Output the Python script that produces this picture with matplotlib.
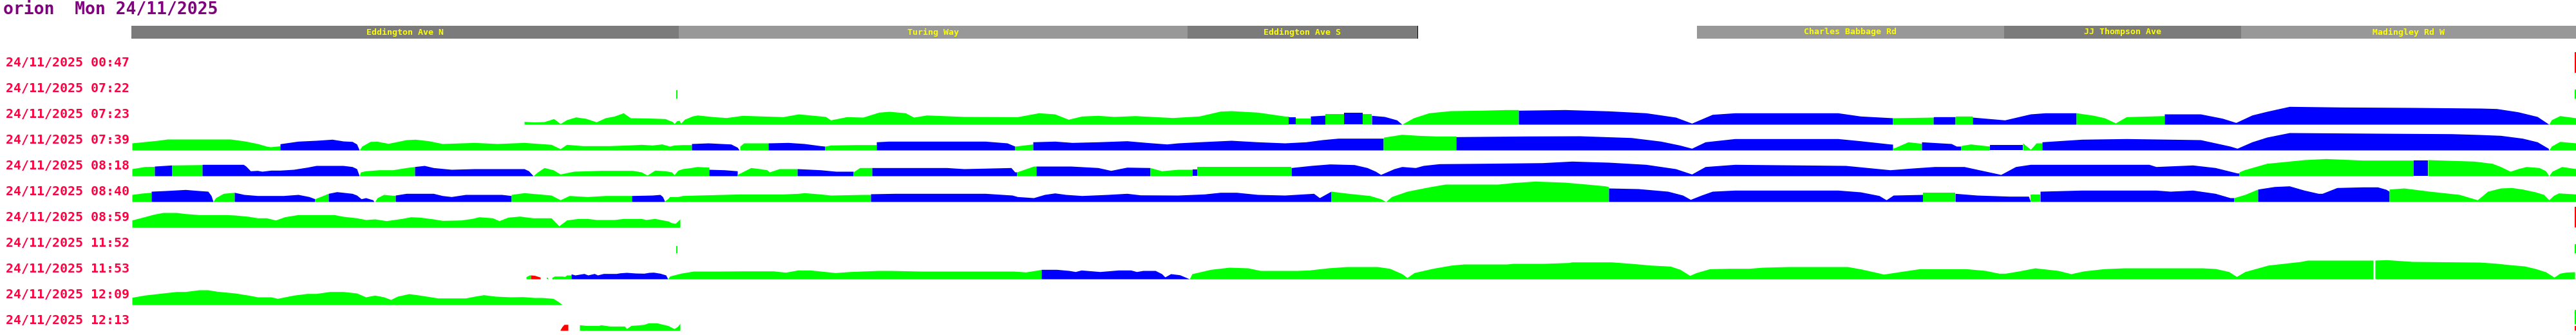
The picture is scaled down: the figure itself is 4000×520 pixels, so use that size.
import matplotlib
matplotlib.use("Agg")
import matplotlib.pyplot as plt

# ---------------- data ----------------
TITLE = "orion  Mon 24/11/2025"

HDR_NAMES = ["Eddington Ave N", "Turing Way", "Eddington Ave S", "",
             "Charles Babbage Rd", "JJ Thompson Ave", "Madingley Rd W"]
HDR_START = [204, 1054, 1844, 2201, 2635, 3112, 3480]
HDR_END = [1054, 1844, 2201, 2635, 3112, 3480, 4000]
HDR_SHADE = ["d", "l", "d", "-", "l", "d", "l"]
HDR_TICKS = [2201]

ROW_LABELS = ["24/11/2025 00:47", "24/11/2025 07:22", "24/11/2025 07:23",
              "24/11/2025 07:39", "24/11/2025 08:18", "24/11/2025 08:40",
              "24/11/2025 08:59", "24/11/2025 11:52", "24/11/2025 11:53",
              "24/11/2025 12:09", "24/11/2025 12:13"]

# (route position, value, category of the stretch that follows)
R0047 = []
R0722 = []
R0723 = [(814, 0, 'g'), (814, 4.3, 'g'), (830, 3.5, 'g'), (845, 4, 'g'), (860, 8.7, 'g'),
         (870, 1, 'g'), (880, 7, 'g'), (894, 11.3, 'g'), (910, 9, 'g'), (926, 3.7, 'g'),
         (940, 10, 'g'), (954, 12.7, 'g'), (968, 17.7, 'g'), (979, 10, 'g'), (1003, 9.7, 'g'),
         (1033, 8.7, 'g'), (1045, 3.7, 'g'), (1047, 1, 'g'), (1051, 5.5, 'g'), (1055, 6, 'g'),
         (1057, 1.5, 'g'), (1063, 7.7, 'g'), (1075, 12.7, 'g'), (1083, 14.3, 'g'),
         (1108, 11.7, 'g'), (1128, 10.3, 'g'), (1153, 13.7, 'g'), (1216, 11.7, 'g'),
         (1240, 16, 'g'), (1282, 12, 'g'), (1290, 6.7, 'g'), (1315, 11.7, 'g'), (1340, 11, 'g'),
         (1365, 18.7, 'g'), (1381, 20, 'g'), (1406, 17.7, 'g'), (1419, 11, 'g'),
         (1439, 14.3, 'g'), (1497, 12, 'g'), (1580, 11.7, 'g'), (1613, 17.7, 'g'),
         (1638, 16, 'g'), (1659, 7.7, 'g'), (1680, 12.7, 'g'), (1705, 13.7, 'g'),
         (1730, 12, 'g'), (1763, 13.3, 'g'), (1821, 10.3, 'g'), (1862, 12.7, 'g'),
         (1895, 20.3, 'g'), (1912, 21, 'g'), (1953, 18.7, 'g'), (1995, 12.7, 'g'),
         (2001, 12.5, 'b'), (2001, 11, 'b'), (2012, 11, 'g'), (2012, 9.3, 'g'),
         (2035, 9.3, 'b'), (2035, 12.7, 'b'), (2058, 14, 'g'), (2058, 16, 'g'),
         (2087, 16, 'b'), (2087, 17.7, 'b'), (2116, 17.7, 'g'), (2116, 16, 'g'),
         (2130, 16, 'b'), (2130, 13.7, 'b'), (2150, 12, 'b'), (2169, 6.7, 'b'),
         (2177, 0, 'g'), (2195, 10, 'g'), (2219, 17.7, 'g'), (2252, 21, 'g'),
         (2300, 21.7, 'g'), (2338, 22.7, 'g'), (2358, 22.7, 'b'), (2358, 21.7, 'b'),
         (2430, 22.7, 'b'), (2498, 20.7, 'b'), (2556, 17.7, 'b'), (2602, 11, 'b'),
         (2627, 1.7, 'b'), (2659, 15.3, 'b'), (2694, 17.7, 'b'), (2854, 17.7, 'b'),
         (2889, 12.7, 'b'), (2939, 10, 'g'), (2940, 10, 'g'), (3002, 11, 'b'),
         (3003, 11.7, 'b'), (3036, 11.7, 'g'), (3037, 12.7, 'g'), (3063, 12.7, 'b'),
         (3063, 11, 'b'), (3113, 6.7, 'b'), (3153, 16, 'b'), (3176, 17.7, 'b'),
         (3224, 17.7, 'g'), (3250, 14, 'g'), (3268, 10, 'g'), (3285, 2, 'g'),
         (3302, 11.7, 'g'), (3361, 13.3, 'b'), (3361, 16, 'b'), (3417, 16, 'b'),
         (3451, 9.3, 'b'), (3472, 2.7, 'b'), (3497, 14.3, 'b'), (3520, 20, 'b'),
         (3555, 27.7, 'b'), (3635, 26.7, 'b'), (3750, 26, 'b'), (3853, 25, 'b'),
         (3877, 24.3, 'b'), (3910, 19.3, 'b'), (3940, 12, 'b'), (3958, 0, 'g'),
         (3962, 7, 'g'), (3975, 13.3, 'g'), (3985, 12, 'g'), (4000, 10, '-')]
R0739 = [(205, 0, 'g'), (205, 11, 'g'), (225, 13, 'g'), (245, 15, 'g'), (260, 17, 'g'),
         (358, 17, 'g'), (380, 14, 'g'), (400, 10, 'g'), (414, 6, 'g'), (420, 5, 'g'),
         (435, 6.5, 'b'), (435, 9.7, 'b'), (463, 13.7, 'b'), (491, 15, 'b'), (516, 16.7, 'b'),
         (533, 14, 'b'), (547, 13.3, 'b'), (554, 9.3, 'b'), (558, 0, 'g'), (562, 6, 'g'),
         (575, 13.3, 'g'), (586, 13.5, 'g'), (603, 10.3, 'g'), (631, 16, 'g'),
         (645, 16.7, 'g'), (666, 14.3, 'g'), (687, 10, 'g'), (737, 11.7, 'g'), (772, 10, 'g'),
         (814, 11.7, 'g'), (856, 8.7, 'g'), (870, 2, 'g'), (880, 8.7, 'g'), (905, 6.7, 'g'),
         (947, 6.7, 'g'), (982, 8, 'g'), (996, 8.7, 'g'), (1013, 7.7, 'g'), (1028, 9.3, 'g'),
         (1040, 6, 'g'), (1047, 7.7, 'g'), (1060, 8.3, 'g'), (1074, 8.3, 'b'),
         (1074, 10, 'b'), (1100, 11, 'b'), (1120, 10, 'b'), (1135, 9.3, 'b'),
         (1145, 4.3, 'b'), (1148, 0, '-'), (1149, 6, 'g'), (1155, 11, 'g'), (1193, 11, 'b'),
         (1224, 11.7, 'b'), (1249, 10, 'b'), (1274, 6.7, 'b'), (1281, 6, 'g'),
         (1290, 7.7, 'g'), (1330, 8.3, 'g'), (1361, 8.3, 'b'), (1361, 12.7, 'b'),
         (1380, 13.7, 'b'), (1530, 13.7, 'b'), (1564, 11, 'b'), (1576, 6, 'g'),
         (1604, 9.3, 'b'), (1604, 12.7, 'b'), (1638, 13.7, 'b'), (1665, 11.7, 'b'),
         (1705, 12.7, 'b'), (1750, 14.3, 'b'), (1780, 11.7, 'b'), (1812, 9.3, 'b'),
         (1829, 11, 'b'), (1862, 12.7, 'b'), (1912, 15, 'b'), (1953, 12.7, 'b'),
         (1995, 11, 'b'), (2028, 12.7, 'b'), (2053, 16, 'b'), (2078, 18.3, 'b'),
         (2148, 18.3, 'g'), (2149, 20, 'g'), (2177, 24.3, 'g'), (2202, 22.7, 'g'),
         (2230, 21.7, 'g'), (2261, 21.7, 'b'), (2261, 20.7, 'b'), (2372, 21.7, 'b'),
         (2453, 22, 'b'), (2533, 19.3, 'b'), (2579, 13.7, 'b'), (2608, 7.7, 'b'),
         (2627, 2.7, 'b'), (2648, 12.7, 'b'), (2694, 17.7, 'b'), (2854, 17.7, 'b'),
         (2889, 14.3, 'b'), (2935, 9.3, 'b'), (2939, 9, 'g'), (2940, 2.7, 'g'),
         (2963, 12.7, 'g'), (2984, 10.3, 'b'), (2984, 12.7, 'b'), (3030, 10, 'b'),
         (3038, 6, 'b'), (3045, 6, 'g'), (3046, 7, 'g'), (3060, 9.3, 'g'), (3090, 6, 'b'),
         (3090, 8.3, 'b'), (3141, 8.3, 'g'), (3141, 11, 'g'), (3153, 1, 'g'),
         (3162, 11, 'g'), (3171, 11, 'b'), (3171, 12.7, 'b'), (3233, 16.7, 'b'),
         (3302, 17.7, 'b'), (3417, 16, 'b'), (3463, 6, 'b'), (3474, 2.7, 'b'),
         (3497, 12.7, 'b'), (3520, 20, 'b'), (3555, 27, 'b'), (3692, 26, 'b'),
         (3807, 25.3, 'b'), (3850, 24, 'b'), (3883, 22.7, 'b'), (3917, 18.3, 'b'),
         (3940, 12.7, 'b'), (3957, 2.7, 'b'), (3958, 0, 'g'), (3962, 6, 'g'),
         (3975, 13.3, 'g'), (4000, 11, '-')]
R0818 = [(205, 0, 'g'), (205, 11, 'g'), (225, 14.3, 'g'), (240, 14.5, 'b'), (240, 15, 'b'),
         (267, 16.7, 'g'), (314, 17.3, 'b'), (314, 17.7, 'b'), (378, 17.7, 'b'),
         (382, 15, 'b'), (389, 7.7, 'b'), (400, 8.3, 'b'), (407, 7, 'b'), (421, 8.7, 'b'),
         (435, 8.7, 'b'), (456, 10, 'b'), (477, 13.3, 'b'), (491, 16, 'b'), (533, 16, 'b'),
         (547, 14.3, 'b'), (554, 11, 'b'), (558, 0, 'g'), (560, 6, 'g'), (568, 7.7, 'g'),
         (589, 9.3, 'g'), (610, 9.3, 'g'), (631, 12.7, 'g'), (644, 14.3, 'b'),
         (659, 16, 'b'), (673, 12.7, 'b'), (701, 10, 'b'), (736, 11, 'b'), (814, 11, 'b'),
         (821, 7.7, 'b'), (828, 0, 'g'), (835, 6, 'g'), (845, 12.7, 'g'), (859, 9.3, 'g'),
         (870, 2.7, 'g'), (891, 7, 'g'), (933, 8.3, 'g'), (982, 8.3, 'g'), (996, 6, 'g'),
         (1005, 1, 'g'), (1017, 8.7, 'g'), (1033, 7.7, 'g'), (1043, 6, 'g'),
         (1047, 1.7, 'g'), (1053, 8.7, 'g'), (1060, 11, 'g'), (1073, 12.7, 'g'),
         (1083, 14.3, 'g'), (1101, 13.3, 'b'), (1101, 10, 'b'), (1125, 9.3, 'b'),
         (1145, 7.7, 'g'), (1145, 2, 'g'), (1166, 12.7, 'g'), (1180, 11, 'g'),
         (1191, 9.3, 'g'), (1195, 6, 'g'), (1210, 11, 'g'), (1238, 11, 'b'),
         (1274, 9.3, 'b'), (1298, 7, 'b'), (1325, 7, 'g'), (1325, 6, 'g'),
         (1335, 12.7, 'g'), (1354, 12.7, 'b'), (1470, 12.7, 'b'), (1497, 11, 'b'),
         (1570, 12.7, 'b'), (1576, 6, 'b'), (1579, 6, 'g'), (1605, 15, 'g'), (1609, 15, 'b'),
         (1663, 15, 'b'), (1705, 12.7, 'b'), (1725, 8.3, 'b'), (1750, 13.3, 'b'),
         (1786, 12.7, 'g'), (1804, 7.7, 'g'), (1829, 10, 'g'), (1852, 10, 'b'),
         (1859, 10, 'g'), (1859, 14.3, 'g'), (2005, 14.3, 'b'), (2005, 12.7, 'b'),
         (2036, 16, 'b'), (2065, 18.3, 'b'), (2103, 17.3, 'b'), (2123, 12.7, 'b'),
         (2136, 7, 'b'), (2144, 2, 'b'), (2165, 11, 'b'), (2177, 14.3, 'b'),
         (2198, 12.7, 'b'), (2210, 16, 'b'), (2235, 18.7, 'b'), (2303, 19.3, 'b'),
         (2395, 20.3, 'b'), (2441, 22.7, 'b'), (2498, 21, 'b'), (2556, 17.7, 'b'),
         (2602, 11, 'b'), (2627, 2.7, 'b'), (2648, 14.3, 'b'), (2694, 17.7, 'b'),
         (2866, 16, 'b'), (2935, 9.3, 'b'), (2970, 12, 'b'), (3004, 14.3, 'b'),
         (3050, 14.3, 'b'), (3107, 2, 'b'), (3130, 14.3, 'b'), (3153, 17.7, 'b'),
         (3337, 17.7, 'b'), (3348, 14.3, 'b'), (3405, 16.7, 'b'), (3440, 12.7, 'b'),
         (3474, 4.3, 'b'), (3477, 4.3, 'g'), (3477, 6, 'g'), (3485, 9.3, 'g'),
         (3520, 19.3, 'g'), (3578, 25, 'g'), (3612, 26.7, 'g'), (3669, 24.3, 'g'),
         (3748, 24.3, 'b'), (3770, 24.3, 'g'), (3770, 25, 'g'), (3842, 22.7, 'g'),
         (3870, 19.3, 'g'), (3883, 14.3, 'g'), (3898, 7, 'g'), (3910, 11, 'g'),
         (3923, 14.3, 'g'), (3943, 12.7, 'g'), (3953, 7.7, 'g'), (3958, 0, 'g'),
         (3963, 7, 'g'), (3978, 14.3, 'g'), (4000, 11, '-')]
R0840 = [(205, 0, 'g'), (205, 11, 'g'), (220, 13, 'g'), (235, 14.3, 'b'), (235, 16, 'b'),
         (257, 17, 'b'), (288, 18.7, 'b'), (309, 17, 'b'), (323, 16, 'b'), (328, 9.3, 'b'),
         (331, 0, 'g'), (335, 6, 'g'), (347, 12.7, 'g'), (364, 14.3, 'b'), (379, 11, 'b'),
         (400, 9.3, 'b'), (440, 9.3, 'b'), (463, 11, 'b'), (480, 7.7, 'b'), (489, 4.3, 'g'),
         (510, 12.7, 'b'), (523, 15.3, 'b'), (547, 12.7, 'b'), (554, 10, 'b'),
         (561, 4.3, 'b'), (568, 6, 'b'), (579, 2.7, 'b'), (581, 0, '-'), (582, 0, 'g'),
         (586, 6, 'g'), (596, 11, 'g'), (614, 9.3, 'b'), (614, 10, 'b'), (631, 12.7, 'b'),
         (673, 12.7, 'b'), (687, 9.3, 'b'), (701, 7.7, 'b'), (723, 11, 'b'), (779, 11, 'b'),
         (794, 9.3, 'g'), (794, 11, 'g'), (814, 13.7, 'g'), (856, 10, 'g'), (870, 2.7, 'g'),
         (884, 9.3, 'g'), (912, 7.7, 'g'), (940, 9.3, 'g'), (981, 9.3, 'b'),
         (1013, 10, 'b'), (1025, 11, 'b'), (1029, 7.7, 'b'), (1032, 1, 'g'),
         (1037, 4.3, 'g'), (1040, 7.7, 'g'), (1053, 7.7, 'g'), (1060, 9.3, 'g'),
         (1083, 10, 'g'), (1150, 11.7, 'g'), (1216, 11.7, 'g'), (1240, 12.7, 'g'),
         (1249, 13.7, 'g'), (1274, 11.7, 'g'), (1290, 10, 'g'), (1340, 11, 'g'),
         (1352, 11, 'b'), (1352, 12, 'b'), (1390, 12.7, 'b'), (1530, 12.7, 'b'),
         (1572, 10, 'b'), (1580, 7.7, 'b'), (1605, 6, 'b'), (1622, 11, 'b'),
         (1638, 13.3, 'b'), (1655, 11, 'b'), (1680, 9.3, 'b'), (1720, 11, 'b'),
         (1750, 12.7, 'b'), (1771, 10.3, 'b'), (1829, 10, 'b'), (1870, 11.7, 'b'),
         (1895, 14.3, 'b'), (1920, 14.3, 'b'), (1953, 11, 'b'), (1995, 10, 'b'),
         (2040, 12.7, 'b'), (2049, 6, 'b'), (2061, 12.7, 'b'), (2067, 16, 'g'),
         (2094, 12.7, 'g'), (2127, 9.3, 'g'), (2144, 4.3, 'g'), (2152, 0, 'g'),
         (2161, 7.7, 'g'), (2185, 16, 'g'), (2219, 22.7, 'g'), (2244, 27, 'g'),
         (2326, 27, 'g'), (2349, 29.3, 'g'), (2384, 31.7, 'g'), (2430, 30, 'g'),
         (2464, 27, 'g'), (2493, 24.3, 'g'), (2498, 23, 'b'), (2498, 21, 'b'),
         (2544, 20, 'b'), (2590, 16, 'b'), (2613, 10, 'b'), (2625, 3.3, 'b'),
         (2642, 10, 'b'), (2659, 16, 'b'), (2694, 17.7, 'b'), (2854, 17.7, 'b'),
         (2889, 15, 'b'), (2918, 9.3, 'b'), (2929, 2.7, 'b'), (2940, 10, 'b'),
         (2986, 11, 'g'), (2986, 14.3, 'g'), (3036, 14.3, 'b'), (3036, 12.7, 'b'),
         (3070, 10, 'b'), (3120, 8.3, 'b'), (3150, 8.3, 'b'), (3153, 0, 'g'),
         (3153, 11, 'g'), (3168, 11, 'b'), (3168, 16, 'b'), (3233, 17.7, 'b'),
         (3348, 17.7, 'b'), (3370, 16, 'b'), (3405, 17.7, 'b'), (3440, 12.7, 'b'),
         (3463, 6, 'b'), (3469, 6, 'g'), (3486, 11, 'g'), (3506, 19.3, 'b'),
         (3532, 23.3, 'b'), (3555, 24.3, 'b'), (3578, 17.7, 'b'), (3600, 12.7, 'b'),
         (3606, 12.7, 'b'), (3629, 21.7, 'b'), (3669, 22.7, 'b'), (3692, 22.7, 'b'),
         (3705, 19, 'b'), (3710, 16, 'g'), (3710, 19.3, 'g'), (3733, 21, 'g'),
         (3773, 16, 'g'), (3819, 11, 'g'), (3847, 2.7, 'g'), (3863, 16, 'g'),
         (3883, 21, 'g'), (3900, 21.7, 'g'), (3917, 19.3, 'g'), (3937, 15, 'g'),
         (3950, 11, 'g'), (3958, 2.7, 'g'), (3965, 9.3, 'g'), (3973, 13.3, 'g'),
         (4000, 11.7, '-')]
R0859 = [(205, 0, 'g'), (205, 11.3, 'g'), (224, 16.3, 'g'), (239, 20.3, 'g'), (253, 23, 'g'),
         (274, 23, 'g'), (288, 21.3, 'g'), (309, 19.7, 'g'), (351, 19.7, 'g'), (365, 19, 'g'),
         (386, 17, 'g'), (400, 14.7, 'g'), (414, 14.7, 'g'), (428, 11.3, 'g'),
         (442, 16.3, 'g'), (463, 19.7, 'g'), (519, 19.7, 'g'), (533, 17, 'g'),
         (554, 14.7, 'g'), (568, 12, 'g'), (582, 13, 'g'), (600, 10.3, 'g'), (624, 13.7, 'g'),
         (638, 16.3, 'g'), (652, 15.7, 'g'), (673, 13, 'g'), (687, 10.7, 'g'),
         (716, 11.3, 'g'), (733, 13.7, 'g'), (744, 16.3, 'g'), (765, 14.7, 'g'),
         (775, 10.3, 'g'), (789, 15.7, 'g'), (807, 17.3, 'g'), (828, 14.7, 'g'),
         (856, 14.7, 'g'), (868, 2.3, 'g'), (880, 11.3, 'g'), (898, 13.7, 'g'),
         (912, 13.7, 'g'), (926, 12, 'g'), (954, 12, 'g'), (968, 13.7, 'g'), (996, 13.7, 'g'),
         (1003, 12, 'g'), (1017, 13.7, 'g'), (1038, 9.7, 'g'), (1043, 7, 'g'),
         (1049, 6.3, 'g'), (1056, 13, '-')]
R1152 = []
R1153 = [(817, 0, 'g'), (817, 3.3, 'g'), (822, 6, 'g'), (824, 6, 'r'), (830, 5.5, 'r'),
         (839, 2.7, '-'), (849, 1.7, 'g'), (851, 1.7, '-'), (857, 2, 'g'), (861, 4.3, 'g'),
         (873, 4.3, 'g'), (877, 3.7, 'g'), (880, 6, 'g'), (887, 6, 'b'), (887, 7.7, 'b'),
         (893, 6, 'b'), (907, 8.3, 'b'), (913, 6, 'b'), (923, 8.3, 'b'), (928, 6, 'b'),
         (937, 8.3, 'b'), (957, 8.3, 'b'), (963, 9.3, 'b'), (973, 10, 'b'), (987, 9, 'b'),
         (1000, 8.7, 'b'), (1008, 10, 'b'), (1015, 10.3, 'b'), (1025, 8.7, 'b'),
         (1034, 6, 'b'), (1037, 0, 'g'), (1040, 4.3, 'g'), (1057, 8.7, 'g'), (1077, 12, 'g'),
         (1115, 12, 'g'), (1153, 12.3, 'g'), (1201, 12.3, 'g'), (1220, 10.3, 'g'),
         (1239, 13.7, 'g'), (1258, 13.7, 'g'), (1297, 9.7, 'g'), (1320, 11.3, 'g'),
         (1364, 13, 'g'), (1383, 13, 'g'), (1430, 12, 'g'), (1500, 12, 'g'), (1574, 12, 'g'),
         (1593, 10.7, 'g'), (1612, 13.7, 'g'), (1617, 14.7, 'b'), (1641, 14.7, 'b'),
         (1660, 13, 'b'), (1670, 11.3, 'b'), (1679, 13.7, 'b'), (1708, 11.3, 'b'),
         (1737, 13.7, 'b'), (1756, 13.7, 'b'), (1765, 11.3, 'b'), (1775, 13, 'b'),
         (1794, 13, 'b'), (1804, 8, 'b'), (1809, 3, 'b'), (1818, 8, 'b'), (1832, 6.3, 'b'),
         (1847, 0, 'g'), (1851, 8, 'g'), (1880, 14.7, 'g'), (1909, 18, 'g'), (1938, 17, 'g'),
         (1957, 13, 'g'), (2014, 13, 'g'), (2033, 13.7, 'g'), (2062, 17, 'g'),
         (2091, 19, 'g'), (2139, 19, 'g'), (2158, 16.3, 'g'), (2177, 8, 'g'), (2185, 2, 'g'),
         (2196, 9.7, 'g'), (2225, 16.3, 'g'), (2254, 21.3, 'g'), (2273, 23, 'g'),
         (2340, 23, 'g'), (2349, 24, 'g'), (2397, 24, 'g'), (2436, 25.3, 'g'),
         (2441, 26.3, 'g'), (2502, 26.3, 'g'), (2533, 24, 'g'), (2563, 21.3, 'g'),
         (2594, 19.7, 'g'), (2609, 14.7, 'g'), (2624, 5.3, 'g'), (2634, 9.7, 'g'),
         (2655, 15.7, 'g'), (2686, 16.3, 'g'), (2716, 16.3, 'g'), (2737, 18, 'g'),
         (2777, 19, 'g'), (2869, 19, 'g'), (2890, 15.3, 'g'), (2915, 9.7, 'g'),
         (2925, 7.3, 'g'), (2951, 11.3, 'g'), (2981, 15.7, 'g'), (3053, 15.7, 'g'),
         (3083, 13, 'g'), (3104, 8.7, 'g'), (3114, 8.7, 'g'), (3134, 12, 'g'),
         (3160, 17, 'g'), (3196, 13, 'g'), (3216, 8, 'g'), (3236, 12.3, 'g'),
         (3267, 15.7, 'g'), (3298, 17, 'g'), (3420, 17, 'g'), (3440, 16, 'g'),
         (3461, 11.3, 'g'), (3473, 3.7, 'g'), (3486, 11.3, 'g'), (3522, 21.3, 'g'),
         (3573, 27, 'g'), (3583, 29, 'g'), (3685, 29, '-'), (3688, 29, 'g'),
         (3706, 29.7, 'g'), (3746, 27, 'g'), (3850, 26, 'g'), (3875, 24.3, 'g'),
         (3900, 21.7, 'g'), (3920, 20, 'g'), (3937, 16, 'g'), (3953, 11, 'g'),
         (3966, 2.7, 'g'), (3975, 8.7, 'g'), (3985, 10.5, 'g'), (3998, 11, '-')]
R1209 = [(205, 0, 'g'), (205, 11.3, 'g'), (224, 14.7, 'g'), (253, 18, 'g'), (274, 20.3, 'g'),
         (288, 20.3, 'g'), (309, 23, 'g'), (323, 23, 'g'), (337, 20.7, 'g'), (365, 18, 'g'),
         (386, 14.7, 'g'), (400, 12, 'g'), (421, 12, 'g'), (431, 9.7, 'g'), (456, 14.7, 'g'),
         (477, 17.3, 'g'), (491, 17.3, 'g'), (512, 20.3, 'g'), (533, 20.3, 'g'),
         (554, 18, 'g'), (568, 12, 'g'), (582, 14.7, 'g'), (596, 12, 'g'), (607, 8, 'g'),
         (617, 13, 'g'), (635, 17, 'g'), (652, 14.7, 'g'), (680, 10.3, 'g'),
         (723, 10.3, 'g'), (737, 13, 'g'), (751, 15.3, 'g'), (770, 13, 'g'), (793, 12, 'g'),
         (812, 12.3, 'g'), (830, 11, 'g'), (842, 11, 'g'), (859, 9.7, 'g'), (867, 4.7, 'g'),
         (872, 1, '-')]
R1213 = [(870, 0, 'r'), (870, 1, 'r'), (873, 6, 'r'), (876, 9.3, 'r'), (882, 9.3, '-'),
         (900, 8.7, 'g'), (910, 7.7, 'g'), (930, 7.7, 'g'), (933, 8.7, 'g'), (947, 6.7, 'g'),
         (970, 6.7, 'g'), (973, 2.7, 'g'), (980, 7.7, 'g'), (990, 8.3, 'g'), (1000, 9.3, 'g'),
         (1007, 11.7, 'g'), (1020, 11.7, 'g'), (1030, 9.3, 'g'), (1037, 7.7, 'g'),
         (1047, 2.7, 'g'), (1052, 6, 'g'), (1056, 11, '-')]
ROWS = [R0047, R0722, R0723, R0739, R0818, R0840, R0859, R1152, R1153, R1209, R1213]

# single-sample marks: (row index, route position, low value, high value, category)
MARKS = [(0, 3999, 0, 32, 'r'),
         (1, 1051, 0, 13, 'g'), (1, 3999, 0, 14, 'g'),
         (6, 3999, 0, 32, 'r'),
         (7, 1051, 0, 11, 'g'), (7, 3999, 0, 14, 'g'),
         (10, 3999, 0, 7, 'r'), (10, 3999, 10, 32, 'g')]

# ---------------- style ----------------
CAT_COLORS = {'g': '#00ff00', 'b': '#0000ff', 'r': '#ff0000'}
SHADES = {'d': '#7b7b7b', 'l': '#989898'}
W, H = 4000, 520
X0, X1 = 204, 4000
MONO = ["DejaVu Sans Mono"]

fig = plt.figure(figsize=(W / 100, H / 100), dpi=100)
fig.patch.set_facecolor("white")

fig.text(5 / W, 1 - 15 / H, TITLE, color="#800080", fontsize=19, fontweight="bold",
         family=MONO, ha="left", va="center")

# header bar
hax = fig.add_axes([X0 / W, 1 - 60 / H, (X1 - X0) / W, 20 / H])
hax.set_xlim(X0, X1)
hax.set_ylim(0, 1)
hax.axis("off")
for name, s, e, sh in zip(HDR_NAMES, HDR_START, HDR_END, HDR_SHADE):
    if sh != "-":
        hax.bar(s, 1, width=e - s, align="edge", color=SHADES[sh], lw=0)
    if name:
        hax.text((s + e) / 2, 0.5, name, color="#ffff00", fontsize=9.5, family=MONO,
                 fontweight="bold", ha="center", va="center")
for t in HDR_TICKS:
    hax.bar(t, 1, width=1.5, align="edge", color="black", lw=0)


def draw_profile(ax, pts):
    if not pts:
        return
    xs, hs, cs = zip(*pts)
    n = len(pts)
    i = 0
    while i < n - 1:
        c = cs[i]
        j = i
        while j < n - 1 and cs[j] == c:
            j += 1
        if c in CAT_COLORS:
            ax.fill_between(xs[i:j + 1], 0, hs[i:j + 1], color=CAT_COLORS[c],
                            lw=0, antialiased=False)
        i = j


row_axes = []
for r, (label, pts) in enumerate(zip(ROW_LABELS, ROWS)):
    base = 113 + 40 * r
    ax = fig.add_axes([X0 / W, 1 - base / H, (X1 - X0) / W, 32 / H])
    ax.set_xlim(X0, X1)
    ax.set_ylim(0, 32)
    ax.axis("off")
    draw_profile(ax, pts)
    fig.text(9 / W, 1 - (base - 15.5) / H, label, color="#ff0040", fontsize=14.3,
             fontweight="bold", family=MONO, ha="left", va="center")
    row_axes.append(ax)

for r, x, lo, hi, c in MARKS:
    row_axes[r].bar(x, hi - lo, bottom=lo, width=2, align="center",
                    color=CAT_COLORS[c], lw=0)

fig.savefig("out.png", dpi=100, facecolor="white")
